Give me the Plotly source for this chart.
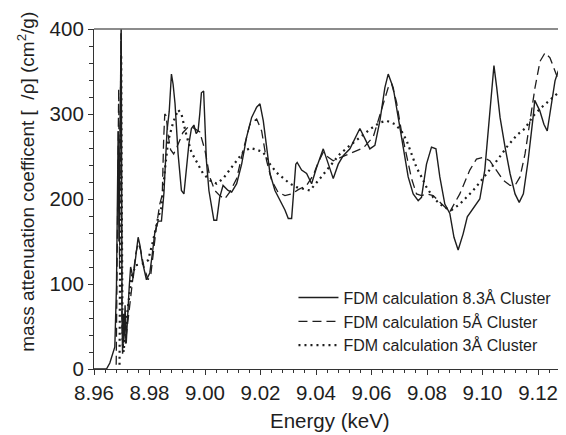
import plotly.graph_objects as go

# ---- data ----
x_83 = [8.960, 8.9645, 8.9657, 8.9675, 8.9681, 8.9687, 8.9690, 8.9694, 8.9698, 8.9701,
        8.9703, 8.9706, 8.9709, 8.9712, 8.9716, 8.9727, 8.9732, 8.9741, 8.9750, 8.9759,
        8.9766, 8.9773, 8.9789, 8.9801, 8.9810, 8.9819, 8.9831, 8.9843, 8.9852, 8.9859,
        8.9863, 8.9871, 8.9879, 8.9885, 8.9892, 8.9903, 8.9915, 8.9924, 8.9933, 8.9942,
        8.9951, 8.9960, 8.9968, 8.9975, 8.9981, 8.9987, 8.9995, 9.0005, 9.0014, 9.0023,
        9.0032, 9.0042, 9.0053, 9.0065, 9.0083, 9.0096, 9.0114, 9.0132, 9.0150, 9.0168,
        9.0186, 9.0198, 9.0210, 9.0222, 9.0234, 9.0252, 9.0270, 9.0288, 9.0300, 9.0312,
        9.0327, 9.0332, 9.0348, 9.0366, 9.0384, 9.0402, 9.0426, 9.0444, 9.0462, 9.0480,
        9.0498, 9.0522, 9.0540, 9.0558, 9.0576, 9.0594, 9.0612, 9.0630, 9.0648, 9.0660,
        9.0678, 9.0696, 9.0714, 9.0732, 9.0750, 9.0768, 9.0780, 9.0798, 9.0816, 9.0832,
        9.0846, 9.0864, 9.0882, 9.0897, 9.0912, 9.0930, 9.0945, 9.0966, 9.0990, 9.1008,
        9.1020, 9.1033, 9.1041, 9.1051, 9.1063, 9.1081, 9.1099, 9.1117, 9.1132, 9.1147,
        9.1164, 9.1182, 9.1188, 9.1206, 9.1221, 9.1233, 9.1249, 9.1261, 9.1273, 9.1285,
        9.1297]
y_83 = [0, 0, 7, 26, 97, 280, 150, 300, 410, 60,
        18, 65, 40, 75, 30, 97, 120, 107, 135, 155,
        145, 128, 105, 113, 135, 160, 174, 174, 207, 256,
        280, 303, 347, 335, 312, 253, 210, 206, 235, 265,
        283, 287, 277, 280, 300, 325, 327, 245, 210, 190,
        175, 175, 202, 216, 210, 208, 218, 241, 273, 296,
        308, 312, 292, 261, 230, 210, 198, 187, 177, 177,
        241, 243, 234, 230, 218, 237, 259, 241, 224, 241,
        251, 259, 271, 283, 271, 259, 263, 292, 331, 347,
        331, 296, 257, 226, 206, 198, 202, 241, 261, 259,
        226, 194, 183, 155, 140, 159, 179, 189, 200, 234,
        277, 331, 357, 331, 296, 261, 230, 206, 196, 206,
        245, 296, 316, 304, 288, 280, 312, 339, 351, 331,
        325]

x_5 = [8.9680, 8.9685, 8.9689, 8.9692, 8.9697, 8.9701, 8.9705, 8.9709, 8.9713, 8.9720,
       8.9729, 8.9741, 8.9750, 8.9759, 8.9768, 8.9780, 8.9795, 8.9805, 8.9815, 8.9825,
       8.9837, 8.9846, 8.9851, 8.9855, 8.9860, 8.9867, 8.9876, 8.9887, 8.9900, 8.9920,
       8.9940, 8.9957, 8.9981, 9.0000, 9.0017, 9.0035, 9.0053, 9.0071, 9.0089, 9.0114,
       9.0137, 9.0162, 9.0186, 9.0204, 9.0222, 9.0240, 9.0263, 9.0288, 9.0312, 9.0336,
       9.0366, 9.0390, 9.0408, 9.0426, 9.0444, 9.0462, 9.0504, 9.0540, 9.0570, 9.0606,
       9.0636, 9.0660, 9.0672, 9.0690, 9.0708, 9.0726, 9.0744, 9.0762, 9.0780, 9.0798,
       9.0822, 9.0850, 9.0882, 9.0918, 9.0954, 9.0978, 9.1002, 9.1026, 9.1051, 9.1075,
       9.1099, 9.1117, 9.1135, 9.1153, 9.1171, 9.1189, 9.1207, 9.1225, 9.1243, 9.1261,
       9.1279, 9.1297]
y_5 = [5, 200, 330, 120, 395, 50, 25, 60, 30, 50,
       77, 115, 135, 148, 140, 120, 105, 112, 140, 168,
       194, 205, 270, 300, 298, 275, 258, 253, 262, 278,
       285, 284, 279, 257, 226, 210, 204, 200, 208, 224,
       257, 288, 294, 280, 245, 222, 208, 204, 206, 211,
       216, 228, 243, 255, 249, 245, 251, 256, 260, 273,
       304, 331, 336, 314, 279, 251, 224, 206, 204, 206,
       204, 195, 185, 206, 234, 247, 249, 245, 233, 222,
       216, 216, 226, 253, 292, 331, 362, 372, 366, 351,
       335, 325]

x_3 = [8.9692, 8.9695, 8.9698, 8.9700, 8.9703, 8.9707, 8.9712, 8.9718, 8.9726, 8.9735,
       8.9750, 8.9777, 8.9795, 8.9813, 8.9831, 8.9843, 8.9855, 8.9867, 8.9885, 8.9903,
       8.9915, 8.9933, 8.9951, 8.9969, 8.9993, 9.0017, 9.0042, 9.0065, 9.0089, 9.0114,
       9.0137, 9.0162, 9.0186, 9.0210, 9.0234, 9.0258, 9.0282, 9.0306, 9.0330, 9.0354,
       9.0378, 9.0414, 9.0450, 9.0486, 9.0522, 9.0558, 9.0594, 9.0630, 9.0654, 9.0684,
       9.0708, 9.0726, 9.0744, 9.0762, 9.0780, 9.0798, 9.0822, 9.0846, 9.0870, 9.0888,
       9.0918, 9.0942, 9.0966, 9.0996, 9.1026, 9.1056, 9.1087, 9.1123, 9.1153, 9.1183,
       9.1213, 9.1243, 9.1273, 9.1297]
y_3 = [5, 150, 370, 200, 30, 20, 45, 60, 85, 108,
       122, 124, 128, 151, 178, 190, 233, 268, 290, 305,
       300, 275, 255, 245, 230, 222, 218, 224, 234, 245,
       255, 260, 258, 255, 241, 231, 224, 218, 214, 212,
       210, 224, 239, 253, 263, 273, 282, 290, 292, 288,
       280, 269, 253, 237, 226, 214, 202, 194, 189, 187,
       194, 202, 210, 222, 234, 247, 261, 275, 283, 298,
       308, 316, 325, 329]

names = ["FDM calculation 8.3Å Cluster", "FDM calculation 5Å Cluster", "FDM calculation 3Å Cluster"]
x_ticks = [8.96, 8.98, 9.00, 9.02, 9.04, 9.06, 9.08, 9.10, 9.12]
x_tick_text = ["8.96", "8.98", "9.00", "9.02", "9.04", "9.06", "9.08", "9.10", "9.12"]
y_ticks = [0, 100, 200, 300, 400]

FONT = "Liberation Sans, Arial, Helvetica, sans-serif"
INK = "#1e1e1e"

fig = go.Figure()
fig.add_trace(go.Scatter(x=x_83, y=y_83, mode="lines", name=names[0],
                         line=dict(color=INK, width=1.4)))
fig.add_trace(go.Scatter(x=x_5, y=y_5, mode="lines", name=names[1],
                         line=dict(color=INK, width=1.3, dash="9px,5px")))
fig.add_trace(go.Scatter(x=x_3, y=y_3, mode="lines", name=names[2],
                         line=dict(color=INK, width=2.2, dash="2px,4px")))

# the page body adds an 8px offset, so the figure is sized to fit the window
fig.update_layout(
    width=558, height=427,
    margin=dict(l=86, r=1, t=21, b=66, autoexpand=False),
    paper_bgcolor="white", plot_bgcolor="white",
    font=dict(family=FONT, color=INK, size=20),
    showlegend=True,
    legend=dict(x=0.4235, y=0.26, xanchor="left", yanchor="top",
                bgcolor="rgba(0,0,0,0)", borderwidth=0,
                font=dict(size=16, family=FONT, color=INK),
                itemwidth=40, tracegroupgap=0),
    xaxis=dict(range=[8.96, 9.1297], showgrid=False, zeroline=False, automargin=False,
               tickmode="array", tickvals=x_ticks, ticktext=x_tick_text,
               ticks="outside", ticklen=5, tickwidth=1, tickcolor="#333",
               showline=True, linecolor="#333", linewidth=1.2,
               tickfont=dict(size=20.5, family=FONT, color=INK),
               minor=dict(dtick=0.004, ticks="outside", ticklen=3, tickcolor="#333", showgrid=False)),
    yaxis=dict(range=[0, 400], showgrid=False, zeroline=False, automargin=False,
               tickmode="array", tickvals=y_ticks,
               ticks="outside", ticklen=5, tickwidth=1, tickcolor="#333",
               showline=True, linecolor="#333", linewidth=1.2,
               tickfont=dict(size=20.5, family=FONT, color=INK),
               ticklabelstandoff=0,
               minor=dict(dtick=20, ticks="outside", ticklen=4, tickcolor="#333", showgrid=False)),
    shapes=[
        dict(type="line", xref="paper", yref="paper", x0=0, x1=1, y0=1, y1=1,
             line=dict(color="#666", width=1.6)),
        dict(type="line", xref="paper", yref="paper", x0=1, x1=1, y0=0, y1=1,
             line=dict(color="#bbb", width=1)),
    ],
    annotations=[
        dict(text="Energy (keV)", xref="paper", yref="paper", x=0.5, y=-0.152,
             xanchor="center", yanchor="middle", showarrow=False,
             font=dict(size=20.5, family=FONT, color=INK)),
        dict(text="mass attenuation coefficent [  /ρ] (cm<sup>2</sup>/g)", xref="paper", yref="paper",
             x=-0.145, y=0.55, xanchor="center", yanchor="middle", textangle=-90,
             showarrow=False, font=dict(size=19, family=FONT, color=INK)),
    ],
)

fig.write_html("out.html")
